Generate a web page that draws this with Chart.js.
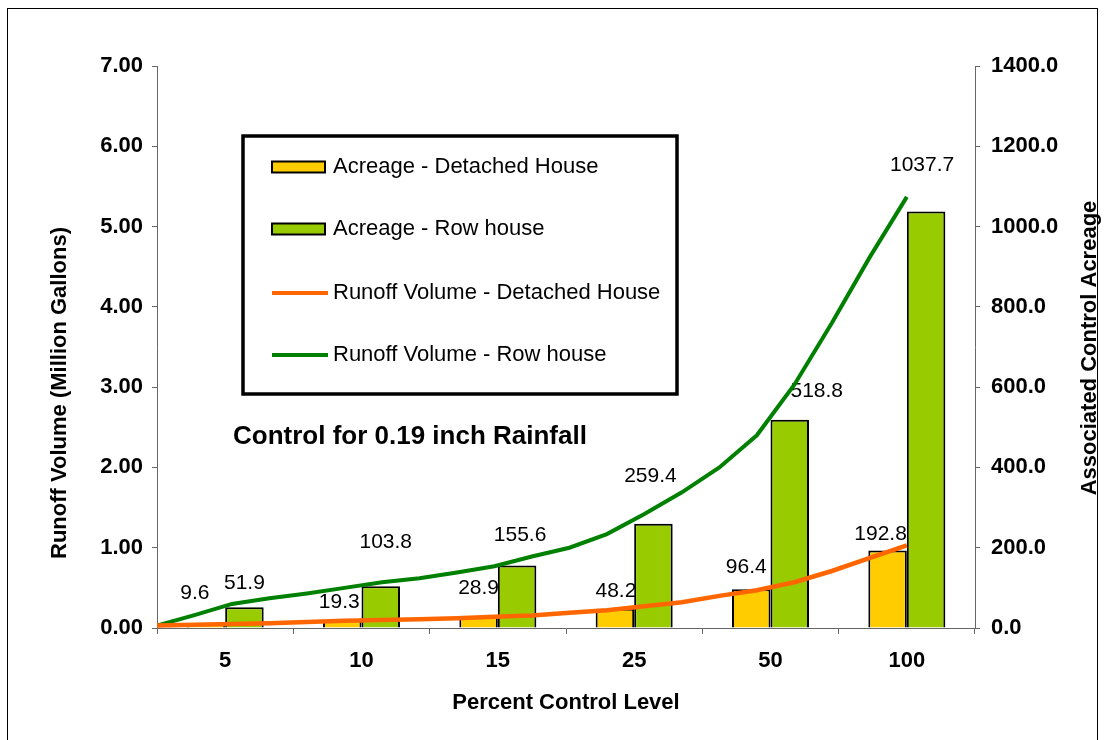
<!DOCTYPE html>
<html>
<head>
<meta charset="utf-8">
<script src="https://cdn.jsdelivr.net/npm/chart.js@4.4.1/dist/chart.umd.min.js"></script>
<style>
  html, body { margin: 0; padding: 0; background: #fff; }
  #wrap { position: relative; width: 1104px; height: 740px; overflow: hidden; }
  #frame { position: absolute; left: 7px; top: 8px; width: 1089px; height: 800px; border: 1px solid #000; }
  canvas { position: absolute; left: 0; top: 0; }
</style>
</head>
<body>
<div id="wrap">
  <div id="frame"></div>
  <canvas id="barChart" width="1104" height="740"></canvas>
  <canvas id="lineChart" width="1104" height="740"></canvas>
</div>
<script>
// categories (percent control level) for the bars
const categories = ['5', '10', '15', '25', '50', '100'];
// acreage, right axis
const acreDetached = [9.6, 19.3, 28.9, 48.2, 96.4, 192.8];
const acreRow = [51.9, 103.8, 155.6, 259.4, 518.8, 1037.7];

const controlPct = [0, 5, 10, 15, 20, 25, 30, 35, 40, 45, 50, 55, 60, 65, 70, 75, 80, 85, 90, 95, 100];
const runoffDetached = [0.03, 0.04, 0.05, 0.06, 0.075, 0.09, 0.10, 0.11, 0.12, 0.14, 0.155, 0.19, 0.22, 0.27, 0.32, 0.40, 0.47, 0.57, 0.71, 0.87, 1.03];
const runoffRow = [0.03, 0.16, 0.30, 0.37, 0.43, 0.50, 0.57, 0.62, 0.69, 0.77, 0.89, 1.00, 1.17, 1.42, 1.69, 2.00, 2.40, 3.03, 3.80, 4.61, 5.37];

const seriesNames = [
  'Acreage - Detached House',
  'Acreage - Row house',
  'Runoff Volume - Detached House',
  'Runoff Volume - Row house',
];
const seriesColors = ['#FFCC00', '#99CC00', '#FF6600', '#008000'];

// label offsets from bar top (they were dragged around in the original)
const labelNudge = [
  [[-11, -31], [-3, -18], [0, -28], [1, -17], [-5, -22], [-7, -16]],
  [[0, -24], [5, -44], [3, -30], [-3, -48], [27, -29], [-4, -46]],
];

const FONT = "'Liberation Sans', Arial, sans-serif";
// plot box shared by both canvases
const box = { top: 66, left: 157, right: 129, bottom: 112 };
// line x axis: 0 at left edge, 100 at centre of last category
const lineMax = 100 * categories.length / (categories.length - 0.5);

const extras = {
  id: 'extras',
  afterDraw(chart) {
    const ctx = chart.ctx;
    const ca = chart.chartArea;
    ctx.save();
    ctx.fillStyle = '#000';

    // bar value labels
    ctx.font = '21px ' + FONT;
    ctx.textAlign = 'center';
    ctx.textBaseline = 'middle';
    [0, 1].forEach((di) => {
      const meta = chart.getDatasetMeta(di);
      const vals = chart.data.datasets[di].data;
      meta.data.forEach((bar, i) => {
        const n = labelNudge[di][i];
        ctx.fillText(vals[i].toFixed(1), bar.x + n[0], bar.y + n[1]);
      });
    });

    // legend box
    ctx.lineWidth = 3.5;
    ctx.strokeStyle = '#000';
    ctx.strokeRect(243, 136, 434, 258);
    const rows = [167, 229, 293, 355];
    ctx.font = '22px ' + FONT;
    ctx.textAlign = 'left';
    seriesNames.forEach((name, i) => {
      const y = rows[i];
      if (i >= 2) {
        ctx.strokeStyle = seriesColors[i];
        ctx.lineWidth = 4;
        ctx.beginPath();
        ctx.moveTo(272, y);
        ctx.lineTo(328, y);
        ctx.stroke();
      } else {
        ctx.fillStyle = seriesColors[i];
        ctx.fillRect(272, y - 5.5, 53, 11);
        ctx.strokeStyle = '#000';
        ctx.lineWidth = 2;
        ctx.strokeRect(272, y - 5.5, 53, 11);
      }
      ctx.fillStyle = '#000';
      ctx.fillText(name, 333, y);
    });

    // note inside plot
    ctx.font = 'bold 26px ' + FONT;
    ctx.fillText('Control for 0.19 inch Rainfall', 233, 437);

    // axis titles
    ctx.font = 'bold 22px ' + FONT;
    ctx.textAlign = 'center';
    ctx.fillText('Percent Control Level', (ca.left + ca.right) / 2, 703);
    ctx.save();
    ctx.translate(60, 393);
    ctx.rotate(-Math.PI / 2);
    ctx.fillText('Runoff Volume (Million Gallons)', 0, 0);
    ctx.restore();
    ctx.save();
    ctx.translate(1090, 348);
    ctx.rotate(-Math.PI / 2);
    ctx.fillText('Associated Control Acreage', 0, 0);
    ctx.restore();

    ctx.restore();
  },
};

const tickFont = { family: FONT, size: 22, weight: 'bold' };

// bars + all three axes
new Chart(document.getElementById('barChart').getContext('2d'), {
  type: 'bar',
  data: {
    labels: categories,
    datasets: [
      {
        label: seriesNames[0],
        data: acreDetached,
        backgroundColor: seriesColors[0],
        borderColor: '#000',
        borderWidth: 2,
        yAxisID: 'y1',
      },
      {
        label: seriesNames[1],
        data: acreRow,
        backgroundColor: seriesColors[1],
        borderColor: '#000',
        borderWidth: 2,
        yAxisID: 'y1',
      },
    ],
  },
  options: {
    responsive: false,
    animation: false,
    layout: { padding: { top: box.top } },
    plugins: {
      legend: { display: false },
      tooltip: { enabled: false },
    },
    datasets: {
      bar: { categoryPercentage: 0.565, barPercentage: 1.0 },
    },
    scales: {
      x: {
        type: 'category',
        offset: true,
        grid: { offset: true, drawOnChartArea: false, tickLength: 6, color: '#666' },
        border: { color: '#666', width: 1 },
        ticks: { font: tickFont, color: '#000', padding: 14 },
        afterFit(s) { s.height = box.bottom; },
      },
      y: {
        position: 'left',
        min: 0,
        max: 7,
        grid: { drawOnChartArea: false, tickLength: 5, color: '#666' },
        border: { color: '#666', width: 1 },
        ticks: {
          stepSize: 1,
          font: tickFont,
          color: '#000',
          padding: 9,
          callback: (v) => v.toFixed(2),
        },
        afterFit(s) { s.width = box.left; },
      },
      y1: {
        position: 'right',
        min: 0,
        max: 1400,
        grid: { drawOnChartArea: false, tickLength: 5, color: '#666' },
        border: { color: '#666', width: 1 },
        ticks: {
          stepSize: 200,
          font: tickFont,
          color: '#000',
          padding: 11,
          callback: (v) => v.toFixed(1),
        },
        afterFit(s) { s.width = box.right; },
      },
    },
  },
  plugins: [extras],
});

// runoff curves on a transparent canvas over the same plot box
// (a second x axis in the bar chart would split the bar groups)
new Chart(document.getElementById('lineChart').getContext('2d'), {
  type: 'line',
  data: {
    datasets: [
      {
        label: seriesNames[2],
        data: controlPct.map((p, i) => ({ x: p, y: runoffDetached[i] })),
        borderColor: seriesColors[2],
        borderWidth: 4.5,
        pointRadius: 0,
        tension: 0,
      },
      {
        label: seriesNames[3],
        data: controlPct.map((p, i) => ({ x: p, y: runoffRow[i] })),
        borderColor: seriesColors[3],
        borderWidth: 4,
        pointRadius: 0,
        tension: 0,
      },
    ],
  },
  options: {
    responsive: false,
    animation: false,
    layout: { padding: box },
    plugins: {
      legend: { display: false },
      tooltip: { enabled: false },
    },
    scales: {
      x: { type: 'linear', display: false, offset: false, min: 0, max: lineMax },
      y: { type: 'linear', display: false, min: 0, max: 7 },
    },
  },
});
</script>
</body>
</html>
